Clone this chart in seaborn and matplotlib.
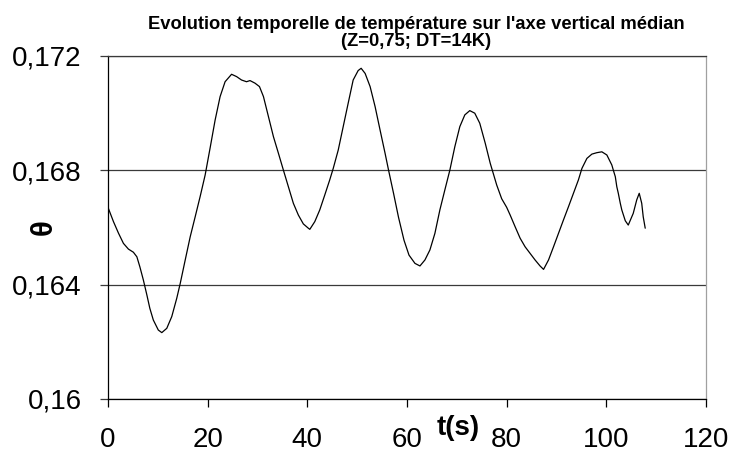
import matplotlib
matplotlib.use("Agg")
import matplotlib.pyplot as plt
import seaborn as sns
import pandas as pd

# Temperature time series on the vertical mid axis
t_s = [0.0, 1.1, 2.1, 3.1, 4.1, 5.1, 5.8, 6.4, 7.1, 7.8, 8.4, 9.1, 10.1, 10.8,
       11.8, 12.8, 13.8, 14.5, 15.5, 16.5, 17.5, 18.5, 19.5, 20.5, 21.5, 22.5,
       23.5, 24.5, 24.8, 25.8, 26.8, 27.8, 28.5, 29.5, 30.4, 31.2, 32.2, 33.2,
       34.2, 35.2, 36.2, 37.2, 38.2, 39.2, 40.2, 40.5, 41.5, 42.5, 43.5, 44.5,
       45.2, 46.2, 47.2, 48.2, 49.2, 50.2, 50.8, 51.6, 52.6, 53.6, 54.6, 55.6,
       56.3, 57.3, 58.3, 59.4, 60.4, 61.6, 62.6, 63.6, 64.6, 65.6, 66.6, 67.6,
       68.6, 69.6, 70.6, 71.6, 72.6, 73.6, 74.6, 75.7, 76.7, 77.3, 78.0, 79.0,
       80.0, 80.7, 81.7, 82.7, 83.7, 84.7, 85.7, 86.7, 87.4, 88.4, 89.4, 90.4,
       91.4, 92.4, 93.4, 94.4, 95.1, 96.1, 97.1, 98.1, 99.1, 100.1, 101.1,
       101.4, 101.8, 102.1, 102.4, 102.8, 103.1, 103.8, 104.4, 105.4, 106.1,
       106.6, 107.1, 107.4, 107.8]
theta = [0.16670, 0.16620, 0.16580, 0.16544, 0.16524, 0.16513, 0.16497,
         0.16462, 0.16416, 0.16364, 0.16317, 0.16276, 0.16241, 0.16232,
         0.16247, 0.16288, 0.16352, 0.16404, 0.16486, 0.16567, 0.16637,
         0.16708, 0.16783, 0.16878, 0.16975, 0.17057, 0.17109, 0.17129,
         0.17135, 0.17127, 0.17115, 0.17109, 0.17113, 0.17104, 0.17092,
         0.17057, 0.16987, 0.16917, 0.16859, 0.16800, 0.16742, 0.16684,
         0.16643, 0.16612, 0.16597, 0.16593, 0.16620, 0.16661, 0.16713,
         0.16766, 0.16806, 0.16870, 0.16952, 0.17034, 0.17115, 0.17148,
         0.17156, 0.17138, 0.17092, 0.17022, 0.16940, 0.16859, 0.16800,
         0.16719, 0.16635, 0.16555, 0.16503, 0.16474, 0.16465, 0.16486,
         0.16521, 0.16579, 0.16661, 0.16731, 0.16800, 0.16882, 0.16952,
         0.16993, 0.17008, 0.16999, 0.16964, 0.16894, 0.16824, 0.16789,
         0.16748, 0.16700, 0.16670, 0.16643, 0.16602, 0.16562, 0.16532,
         0.16509, 0.16486, 0.16465, 0.16453, 0.16486, 0.16532, 0.16579,
         0.16626, 0.16672, 0.16719, 0.16766, 0.16806, 0.16841, 0.16856,
         0.16861, 0.16864, 0.16853, 0.16818, 0.16800, 0.16777, 0.16742,
         0.16719, 0.16684, 0.16661, 0.16623, 0.16608, 0.16649, 0.16696,
         0.16719, 0.16684, 0.16637, 0.16597]

x_ticks = [0, 20, 40, 60, 80, 100, 120]
y_ticks = [0.160, 0.164, 0.168, 0.172]
y_tick_labels = ["0,16", "0,164", "0,168", "0,172"]

title = ("Evolution temporelle de température sur l'axe vertical médian\n"
         "(Z=0,75; DT=14K)")

sns.set_theme(style="white")
plt.rcParams["font.family"] = ["Liberation Sans", "DejaVu Sans"]
plt.rcParams["text.color"] = "black"
plt.rcParams["axes.labelcolor"] = "black"

df = pd.DataFrame({"t": t_s, "theta": theta})

fig = plt.figure(figsize=(7.32, 4.55), dpi=100)
ax = fig.add_axes([0.1475, 0.1231, 0.8170, 0.7545])

sns.lineplot(data=df, x="t", y="theta", sort=False, color="black",
             linewidth=0.9, ax=ax)

ax.set_xlim(0, 120)
ax.set_ylim(0.160, 0.172)
ax.set_xticks(x_ticks)
ax.set_xticklabels([str(v) for v in x_ticks])
ax.set_yticks(y_ticks)
ax.set_yticklabels(y_tick_labels)

# horizontal gridlines only
ax.yaxis.grid(True, color="#3a3a3a", linewidth=0.9)
ax.xaxis.grid(False)
ax.set_axisbelow(True)

ax.tick_params(axis="both", labelsize=20, colors="black")
ax.tick_params(axis="y", direction="out", length=6, width=0.9,
               pad=13, color="#3a3a3a", left=True)
ax.tick_params(axis="x", direction="out", length=6, width=0.9,
               pad=14, color="black", bottom=True)

for side in ["left", "bottom"]:
    ax.spines[side].set_color("black")
    ax.spines[side].set_linewidth(0.9)
ax.spines["top"].set_color("#3a3a3a")
ax.spines["top"].set_linewidth(0.9)
ax.spines["right"].set_color("#a0a0a0")
ax.spines["right"].set_linewidth(0.9)

ax.set_xlabel("t(s)", fontsize=20, fontweight="bold", color="black")
ax.xaxis.set_label_coords(0.585, -0.085)
ax.xaxis.label.set_va("center")

ax.set_ylabel("θ", fontsize=21, fontweight="bold", color="black")
ax.yaxis.set_label_coords(-0.107, 0.5)
ax.yaxis.label.set_va("center")

fig.text(0.569, 0.927, title, ha="center", va="center", fontsize=13.2,
         fontweight="bold", linespacing=0.98, color="black")

fig.savefig("out.png", dpi=100, facecolor="white")
